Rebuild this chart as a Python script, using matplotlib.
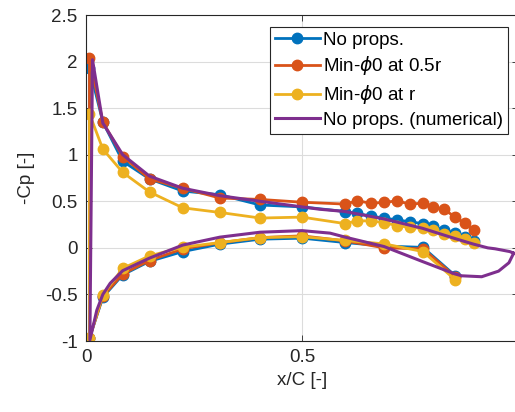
import numpy as np
import matplotlib
matplotlib.use("Agg")
import matplotlib.pyplot as plt

plt.rcParams['font.family'] = ['Liberation Sans', 'DejaVu Sans']
plt.rcParams['mathtext.fontset'] = 'dejavusans'

# chord stations (upper surface goes LE -> TE, lower surface LE -> TE)
x_up = [0.008, 0.039, 0.085, 0.147, 0.224, 0.31, 0.403, 0.5, 0.6, 0.628, 0.659,
        0.69, 0.719, 0.75, 0.779, 0.804, 0.829, 0.854, 0.877, 0.897]
x_lo = [0.008, 0.039, 0.085, 0.147, 0.224, 0.31, 0.403, 0.5, 0.6, 0.69, 0.78, 0.855]

# -Cp, no props
cp_none_up = [1.93, 1.35, 0.93, 0.74, 0.61, 0.57, 0.46, 0.44, 0.39, 0.37, 0.34,
              0.32, 0.30, 0.28, 0.26, 0.23, 0.19, 0.16, 0.115, 0.07]
cp_none_lo = [-0.97, -0.53, -0.29, -0.145, -0.04, 0.04, 0.093, 0.104, 0.057, 0.02, 0.005, -0.30]

# -Cp, min-phi0 at 0.5r
cp_half_up = [2.04, 1.35, 0.98, 0.74, 0.64, 0.535, 0.52, 0.49, 0.47, 0.505, 0.48,
              0.487, 0.505, 0.47, 0.48, 0.437, 0.415, 0.33, 0.265, 0.19]
cp_half_lo = [-0.97, -0.52, -0.28, -0.136, -0.01, 0.055, 0.11, 0.129, 0.075, 0.0, -0.01, -0.31]

# -Cp, min-phi0 at r
cp_r_up = [1.44, 1.06, 0.81, 0.60, 0.43, 0.38, 0.32, 0.33, 0.26, 0.29, 0.29,
           0.27, 0.24, 0.22, 0.21, 0.19, 0.15, 0.13, 0.09, 0.05]
cp_r_lo = [-0.97, -0.505, -0.22, -0.086, 0.007, 0.057, 0.11, 0.12, 0.079, 0.043, -0.04, -0.344]

# numerical, no props
x_num_up = [0.015, 0.039, 0.085, 0.147, 0.224, 0.31, 0.403, 0.5, 0.54, 0.6,
            0.69, 0.779, 0.854, 0.897, 0.93, 0.947, 0.981, 0.99]
cp_num_up = [2.02, 1.34, 1.0, 0.77, 0.64, 0.56, 0.50, 0.44, 0.415, 0.39,
             0.31, 0.21, 0.10, 0.04, 0.0, -0.01, -0.04, -0.057]
x_num_lo = [0.009, 0.025, 0.039, 0.056, 0.085, 0.147, 0.224, 0.31, 0.403, 0.5, 0.565,
            0.6, 0.69, 0.779, 0.854, 0.87, 0.916, 0.955, 0.979, 0.99]
cp_num_lo = [-0.99, -0.67, -0.50, -0.38, -0.245, -0.11, 0.03, 0.115, 0.168, 0.185, 0.158,
             0.115, 0.014, -0.147, -0.28, -0.30, -0.31, -0.25, -0.16, -0.057]

c_blue = '#0072BD'
c_orange = '#D95319'
c_yellow = '#EDB120'
c_purple = '#7E2F8E'

fig = plt.figure(figsize=(5.15, 4.12), dpi=100)
ax = fig.add_axes([86 / 515, 71 / 412, 432 / 515, 326 / 412])

def surf(xu, yu, xl, yl):
    xs = list(reversed(xu)) + list(xl)
    ys = list(reversed(yu)) + list(yl)
    return xs, ys

for xu, yu, xl, yl, col, lab in [
        (x_up, cp_none_up, x_lo, cp_none_lo, c_blue, 'No props.'),
        (x_up, cp_half_up, x_lo, cp_half_lo, c_orange, r'Min-$\phi$0 at 0.5r'),
        (x_up, cp_r_up, x_lo, cp_r_lo, c_yellow, r'Min-$\phi$0 at r')]:
    xs, ys = surf(xu, yu, xl, yl)
    ax.plot(xs, ys, '-o', color=col, lw=2, ms=7.5, label=lab)

xs, ys = surf(x_num_up, cp_num_up, x_num_lo, cp_num_lo)
ax.plot(xs, ys, '-', color=c_purple, lw=2.2, label='No props. (numerical)')

ax.set_xlim(0, 1)
ax.set_ylim(-1, 2.5)
ax.set_xticks([0, 0.5, 1])
ax.set_xticklabels(['0', '0.5', ''])
ax.set_yticks(np.arange(-1, 2.51, 0.5))
ax.set_yticklabels(['-1', '-0.5', '0', '0.5', '1', '1.5', '2', '2.5'])
ax.grid(True, color='#dcdcdc', lw=0.8)
ax.set_axisbelow(True)
for s in ax.spines.values():
    s.set_color('#262626')
    s.set_linewidth(0.8)
ax.tick_params(direction='in', length=4, width=0.6, colors='#262626',
               labelsize=13.5, top=True, right=True, pad=6)
ax.set_xlabel('x/C [-]', fontsize=13.5, color='#262626', labelpad=4)
ax.set_ylabel('-Cp [-]', fontsize=13.5, color='#262626', labelpad=7)

leg = ax.legend(loc='upper right', bbox_to_anchor=(508 / 515, 1 - 27 / 412),
                bbox_transform=fig.transFigure, fontsize=13.5, handlelength=2.4,
                handletextpad=0.2, borderpad=0.25, labelspacing=0.3,
                fancybox=False, framealpha=1, edgecolor='#262626', borderaxespad=0)
leg.get_frame().set_linewidth(0.8)

fig.savefig('out.png', dpi=100)
